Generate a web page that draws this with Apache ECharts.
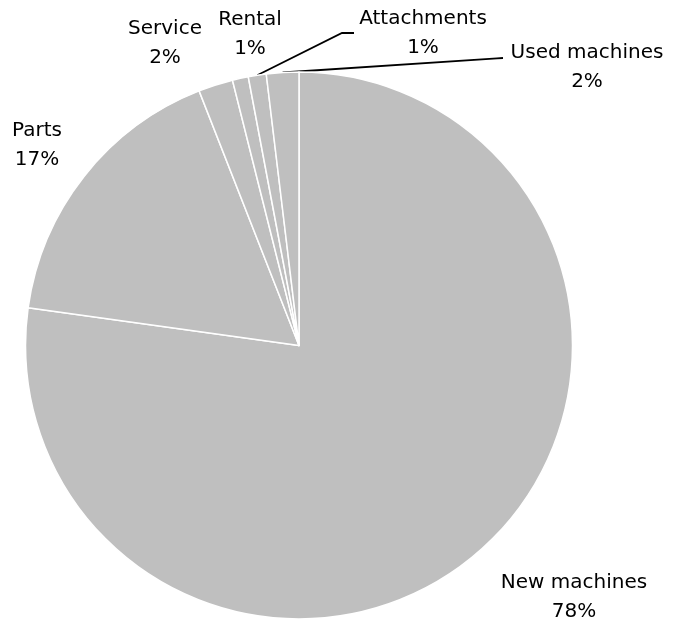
<!DOCTYPE html>
<html>
<head>
<meta charset="utf-8">
<script src="https://cdn.jsdelivr.net/npm/echarts@6/dist/echarts.min.js"></script>
<style>
html,body{margin:0;padding:0;background:#fff;}
#c{width:673px;height:624px;}
</style>
</head>
<body>
<div id="c"></div>
<script>
const categories = ['New machines', 'Parts', 'Service', 'Rental', 'Attachments', 'Used machines'];
const values = [77.2, 16.85, 2.04, 0.94, 1.06, 1.91];
const percentLabels = ['78%', '17%', '2%', '1%', '1%', '2%'];
const showLeader = [false, false, false, false, true, true];

// label placement (centre of text block) and leader bend points
const labelPos = [[574, 597], [37, 145], [165, 43], [250, 34], [423, 33], [587, 67]];
const leaderBends = {4: [[342, 33], [354, 33]], 5: [[497, 58.4], [503, 58]]};

const chart = echarts.init(document.getElementById('c'), null, {renderer: 'canvas'});
const data = categories.map((name, i) => ({
  name: name,
  value: values[i],
  labelLine: {show: showLeader[i]}
}));

chart.setOption({
  animation: false,
  backgroundColor: '#ffffff',
  series: [{
    type: 'pie',
    center: [299, 345.5],
    radius: [0, 273.5],
    startAngle: 90,
    clockwise: true,
    avoidLabelOverlap: false,
    data: data,
    itemStyle: {color: '#bfbfbf', borderColor: '#ffffff', borderWidth: 1.5},
    label: {
      show: true,
      position: 'outside',
      formatter: p => p.name + '\n' + percentLabels[p.dataIndex],
      fontFamily: 'DejaVu Sans',
      fontSize: 20,
      lineHeight: 29,
      color: '#000',
      align: 'center'
    },
    labelLine: {show: true, length: 10, length2: 10, lineStyle: {color: '#000', width: 1.8}},
    emphasis: {disabled: true},
    labelLayout: function (params) {
      const i = params.dataIndex;
      const res = {x: labelPos[i][0], y: labelPos[i][1], align: 'center', verticalAlign: 'middle'};
      if (leaderBends[i] && params.labelLinePoints) {
        res.labelLinePoints = [params.labelLinePoints[0], leaderBends[i][0], leaderBends[i][1]];
      }
      return res;
    }
  }]
});
</script>
</body>
</html>
